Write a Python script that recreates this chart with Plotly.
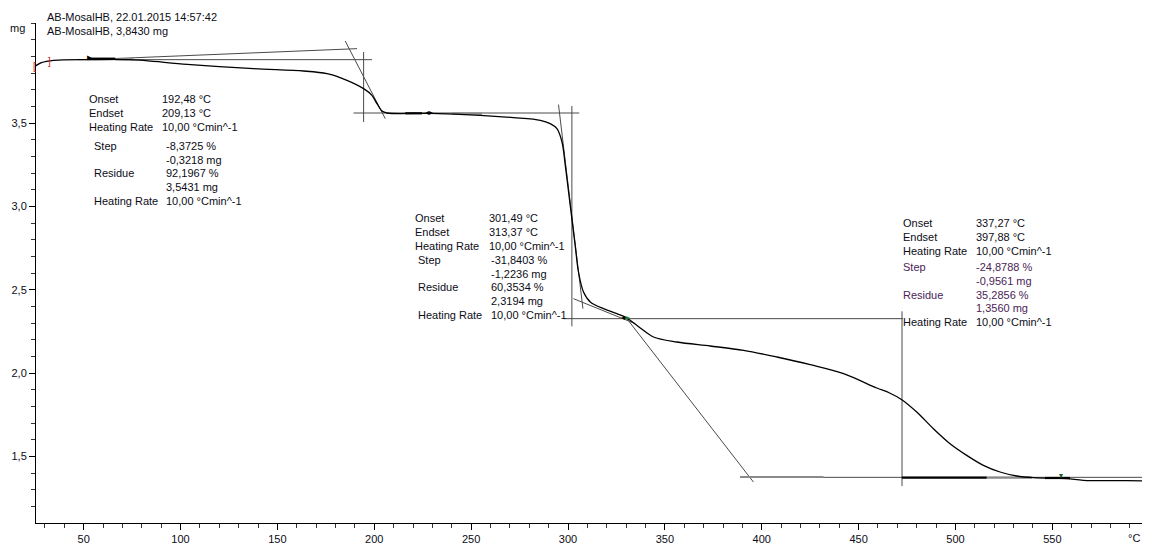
import plotly.graph_objects as go

# ---------------- data ----------------
curve_T = [25.1, 28.2, 34.5, 53.5, 74.1, 103.4, 137.7, 163.5, 175.6, 185.9,
           194.5, 198.8, 201.4, 204.0, 206.6, 228.9, 254.7, 271.9, 285.7, 290.8,
           294.3, 296.9, 298.6, 300.3, 302.0, 303.7, 305.4, 308.0, 311.5, 318.3,
           325.2, 330.4, 337.3, 344.1, 356.2, 373.4, 390.6, 407.8, 425.0, 442.2,
           459.4, 466.0, 472.3, 480.0, 488.6, 497.2, 505.8, 514.4, 523.0, 531.6,
           540.2, 557.4, 566.0, 588.4, 599.5]
curve_m = [3.842, 3.862, 3.876, 3.880, 3.880, 3.852, 3.826, 3.812, 3.796, 3.756,
           3.706, 3.666, 3.616, 3.572, 3.560, 3.558, 3.546, 3.532, 3.516, 3.496,
           3.466, 3.386, 3.246, 3.086, 2.926, 2.766, 2.606, 2.486, 2.426, 2.386,
           2.356, 2.330, 2.270, 2.216, 2.186, 2.162, 2.136, 2.096, 2.050, 1.996,
           1.910, 1.880, 1.840, 1.766, 1.666, 1.576, 1.506, 1.446, 1.406, 1.382,
           1.372, 1.366, 1.356, 1.354, 1.352]

# evaluation construction lines (T0, m0, T1, m1)
step1_lines = [(47.4, 3.880, 198.8, 3.880), (51.8, 3.880, 191.1, 3.946),
               (185.0, 3.992, 205.7, 3.526), (194.5, 3.926, 194.5, 3.506),
               (189.3, 3.560, 305.8, 3.560)]
step2_lines = [(302.0, 3.602, 302.0, 2.280), (295.1, 3.610, 307.7, 2.386),
               (297.7, 2.326, 472.9, 2.326), (302.8, 2.446, 334.7, 2.296)]
step3_lines = [(330.4, 2.326, 395.7, 1.346), (472.4, 2.370, 472.4, 1.322),
               (388.8, 1.374, 599.3, 1.374)]
# evaluation ranges (T0, T1, m)
range_black = [(52.5, 66.3, 3.886), (216.0, 224.6, 3.558),
               (472.3, 516.1, 1.372), (546.2, 559.1, 1.370)]
range_grey = [(66.3, 75.8, 3.882), (240.1, 255.6, 3.556),
              (388.8, 431.8, 1.376), (516.1, 539.4, 1.372)]

x_tick_vals = [50, 100, 150, 200, 250, 300, 350, 400, 450, 500, 550]
x_tick_text = ["50", "100", "150", "200", "250", "300", "350", "400", "450", "500", "550"]
x_minor_vals = [30, 40, 60, 70, 80, 90, 110, 120, 130, 140, 160, 170, 180, 190,
                210, 220, 230, 240, 260, 270, 280, 290, 310, 320, 330, 340,
                360, 370, 380, 390, 410, 420, 430, 440, 460, 470, 480, 490,
                510, 520, 530, 540, 560, 570, 580, 590]
y_tick_vals = [1.5, 2.0, 2.5, 3.0, 3.5]
y_tick_text = ["1,5", "2,0", "2,5", "3,0", "3,5"]
y_minor_vals = [1.2, 1.3, 1.4, 1.6, 1.7, 1.8, 1.9, 2.1, 2.2, 2.3, 2.4,
                2.6, 2.7, 2.8, 2.9, 3.1, 3.2, 3.3, 3.4, 3.6, 3.7, 3.8, 3.9, 4.0, 4.1]

header_lines = ["AB-MosalHB, 22.01.2015 14:57:42", "AB-MosalHB, 3,8430 mg"]

block1_labels = ["Onset", "Endset", "Heating Rate"]
block1_values = ["192,48 °C", "209,13 °C", "10,00 °Cmin^-1"]
block1_step_labels = ["Step", "", "Residue", "", "Heating Rate"]
block1_step_values = ["-8,3725 %", "-0,3218 mg", "92,1967 %", "3,5431 mg", "10,00 °Cmin^-1"]

block2_labels = ["Onset", "Endset", "Heating Rate"]
block2_values = ["301,49 °C", "313,37 °C", "10,00 °Cmin^-1"]
block2_step_labels = ["Step", "", "Residue", "", "Heating Rate"]
block2_step_values = ["-31,8403 %", "-1,2236 mg", "60,3534 %", "2,3194 mg", "10,00 °Cmin^-1"]

block3_labels = ["Onset", "Endset", "Heating Rate"]
block3_values = ["337,27 °C", "397,88 °C", "10,00 °Cmin^-1"]
block3_step_labels = ["Step", "", "Residue", "", "Heating Rate"]
block3_step_values = ["-24,8788 %", "-0,9561 mg", "35,2856 %", "1,3560 mg", "10,00 °Cmin^-1"]

# ---------------- layout geometry ----------------
OFF = 8                      # default page margin of the html body
W, H = 1150 - OFF, 545 - OFF
ML, MR, MT, MB = 36 - OFF, 0, 23 - OFF, 22
PW, PH = W - ML - MR, H - MT - MB
FONT = "Liberation Sans"
TXT = "#0c0c16"


def px(xs):
    return (xs - OFF - ML) / PW


def py(ys):
    return (H - MB - (ys - OFF)) / PH


fig = go.Figure()


def add_segments(lines, color, width):
    xs, ys = [], []
    for t0, m0, t1, m1 in lines:
        xs += [t0, t1, None]
        ys += [m0, m1, None]
    fig.add_trace(go.Scatter(x=xs, y=ys, mode="lines",
                             line=dict(color=color, width=width),
                             hoverinfo="skip", showlegend=False))


add_segments(step1_lines, "#4a4a4a", 1)
add_segments(step2_lines, "#4a4a4a", 1)
add_segments(step3_lines, "#4a4a4a", 1)
add_segments([(a, m, b, m) for a, b, m in range_grey], "#8a8a8a", 2.2)
add_segments([(a, m, b, m) for a, b, m in range_black], "#000000", 2.2)

fig.add_trace(go.Scatter(x=curve_T, y=curve_m, mode="lines",
                         line=dict(color="#000000", width=1.3, shape="spline", smoothing=0.9),
                         showlegend=False))

ann = []


def text(xs, ys, s, color=TXT, size=11, anchor="left"):
    ann.append(dict(x=px(xs), y=py(ys), xref="paper", yref="paper", text=s,
                    showarrow=False, xanchor=anchor, yanchor="middle",
                    font=dict(family=FONT, size=size, color=color)))


# header
text(45, 16.7, header_lines[0])
text(45, 31, header_lines[1])
text(27, 28, "mg", anchor="right")
text(1134, 538, "°C", anchor="center")


def block(x_lab, x_val, ys, labels, values, color=TXT):
    for y, l, v in zip(ys, labels, values):
        if l:
            text(x_lab, y, l, color)
        text(x_val, y, v, color)


block(87.3, 160.3, [99, 113, 126.7], block1_labels, block1_values)
block(91.7, 164.3, [146, 160, 173.3, 187.3, 201.3], block1_step_labels, block1_step_values)
block(413.3, 486.7, [217.7, 232, 245.7], block2_labels, block2_values)
block(416, 489, [260.3, 274, 287.3, 301.3, 315], block2_step_labels, block2_step_values)
block(901, 974, [223.3, 237, 251], block3_labels, block3_values)
block(901, 974, [267.3, 280.7, 294.7], block3_step_labels[:3], block3_step_values[:3], "#4b2456")
block(901, 974, [308.3], [""], [block3_step_values[3]], "#4b2456")
block(901, 974, [322], [block3_step_labels[4]], [block3_step_values[4]])

# small evaluation markers
text(34.5, 66.7, "[", "#e02020", 10, "center")
text(49.3, 61.7, "]", "#e02020", 10, "center")
text(89, 57.5, "▸", "#000000", 9, "center")
text(429, 112, "◂▸", "#000000", 8, "center")
text(623, 317, "◂", "#000000", 8, "center")
text(628, 317, "▸", "#1a8a1a", 8, "center")
text(1060.5, 475, "▾", "#1a5a1a", 8, "center")

fig.update_layout(
    width=W, height=H,
    margin=dict(l=ML, r=MR, t=MT, b=MB),
    paper_bgcolor="white", plot_bgcolor="white",
    showlegend=False,
    annotations=ann,
    font=dict(family=FONT, size=11, color=TXT),
)
fig.update_xaxes(range=[25.4, 600.4], showgrid=False, zeroline=False,
                 showline=True, linecolor="#000000", linewidth=1,
                 tickmode="array", tickvals=x_tick_vals, ticktext=x_tick_text,
                 ticks="outside", ticklen=6, tickcolor="#000000", tickwidth=1,
                 tickfont=dict(family=FONT, size=11, color=TXT),
                 minor=dict(tickmode="array", tickvals=x_minor_vals, ticks="outside",
                            ticklen=4, tickcolor="#333333", tickwidth=1))
fig.update_yaxes(range=[1.1, 4.1], showgrid=False, zeroline=False,
                 showline=True, linecolor="#000000", linewidth=1,
                 tickmode="array", tickvals=y_tick_vals, ticktext=y_tick_text,
                 ticks="outside", ticklen=6, tickcolor="#000000", tickwidth=1,
                 tickfont=dict(family=FONT, size=11, color=TXT),
                 minor=dict(tickmode="array", tickvals=y_minor_vals, ticks="outside",
                            ticklen=4, tickcolor="#333333", tickwidth=1))

fig.write_html("out.html")
